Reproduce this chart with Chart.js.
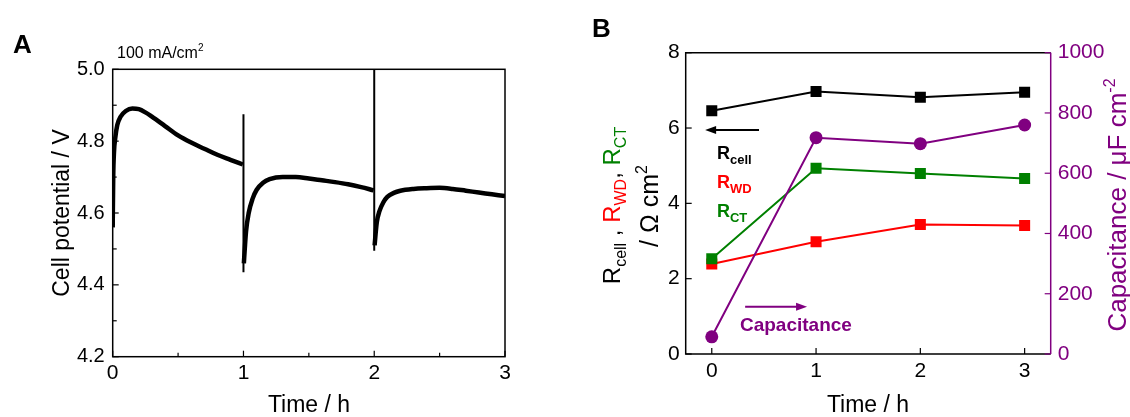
<!DOCTYPE html>
<html>
<head>
<meta charset="utf-8">
<script src="https://cdn.jsdelivr.net/npm/chart.js@4.4.0/dist/chart.umd.min.js"></script>
<style>
    body { margin: 0; background: #fff; }
    #wrap { position: relative; width: 1130px; height: 417px; }
    #panelA { position: absolute; left: 0; top: 0; }
    #panelB { position: absolute; left: 560px; top: 0; }
</style>
</head>
<body>
<div id="wrap">
    <canvas id="panelA" width="560" height="417"></canvas>
    <canvas id="panelB" width="570" height="417"></canvas>
</div>
<script>
// ---- Panel A: cell potential at 100 mA/cm2 (null = break at each interruption)
const timeA = [0, 0.004, 0.01, 0.02, 0.035, 0.06, 0.1, 0.15, 0.2, 0.25, 0.3, 0.4, 0.5, 0.6, 0.7, 0.8, 0.9, 0.995, 1.0,
    1.003, 1.01, 1.02, 1.04, 1.07, 1.1, 1.15, 1.2, 1.3, 1.4, 1.5, 1.6, 1.7, 1.8, 1.9, 1.995, 2.0,
    2.003, 2.01, 2.02, 2.04, 2.07, 2.1, 2.15, 2.2, 2.3, 2.4, 2.5, 2.6, 2.7, 2.8, 2.9, 3.0];
const potentialA = [4.56, 4.70, 4.77, 4.81, 4.845, 4.868, 4.884, 4.891, 4.889, 4.88, 4.868, 4.842, 4.816, 4.796, 4.779, 4.762, 4.748, 4.735, null,
    4.46, 4.50, 4.55, 4.60, 4.64, 4.664, 4.684, 4.694, 4.70, 4.70, 4.696, 4.691, 4.686, 4.68, 4.672, 4.663, null,
    4.51, 4.54, 4.575, 4.605, 4.63, 4.645, 4.656, 4.662, 4.667, 4.669, 4.67, 4.667, 4.662, 4.657, 4.652, 4.647];
// thin vertical spikes at the interruptions
const spikeTime = [1, 1, 1.5, 2, 2];
const spikePotential = [4.875, 4.435, null, 5.0, 4.495];
const xTicksA = [0, 1, 2, 3];
const xMinorA = [0.5, 1.5, 2.5];
const yTicksA = [4.2, 4.4, 4.6, 4.8, 5.0];
const yMinorA = [4.3, 4.5, 4.7, 4.9];

// ---- Panel B: resistances and capacitance vs time
const timeB = [0, 1, 2, 3];
const rCell = [6.46, 6.97, 6.82, 6.95];
const rWD = [2.39, 2.98, 3.44, 3.41];
const rCT = [2.53, 4.93, 4.79, 4.66];
const capacitance = [57, 718, 698, 760];
const yTicksB = [0, 2, 4, 6, 8];
const y2TicksB = [0, 200, 400, 600, 800, 1000];

const FONT = '"Liberation Sans", Arial, Helvetica, sans-serif';
const PURPLE = '#800080';
const GREEN = '#008000';
const RED = '#ff0000';

function xy(xs, ys) {
    return xs.map((x, i) => ({ x: x, y: ys[i] }));
}

function line(ctx, x1, y1, x2, y2) {
    ctx.beginPath();
    ctx.moveTo(x1, y1);
    ctx.lineTo(x2, y2);
    ctx.stroke();
}

// text made of pieces with own size/colour/shift (subscripts etc.)
function richText(ctx, parts, x, y, align) {
    let total = 0;
    parts.forEach(p => {
        ctx.font = `${p.bold ? 'bold ' : ''}${p.size}px ${FONT}`;
        p.w = ctx.measureText(p.t).width;
        total += p.w;
    });
    let cx = align === 'center' ? x - total / 2 : x;
    ctx.textAlign = 'left';
    ctx.textBaseline = 'alphabetic';
    parts.forEach(p => {
        ctx.font = `${p.bold ? 'bold ' : ''}${p.size}px ${FONT}`;
        ctx.fillStyle = p.c || '#000';
        ctx.fillText(p.t, cx, y + (p.dy || 0));
        cx += p.w;
    });
}

function arrow(ctx, x1, y, x2, color) {
    const dir = Math.sign(x2 - x1);
    ctx.strokeStyle = color;
    ctx.fillStyle = color;
    ctx.lineWidth = 2;
    line(ctx, x1, y, x2 - dir * 6, y);
    ctx.beginPath();
    ctx.moveTo(x2, y);
    ctx.lineTo(x2 - dir * 11, y - 4);
    ctx.lineTo(x2 - dir * 11, y + 4);
    ctx.closePath();
    ctx.fill();
}

const panelAOverlay = {
    id: 'panelAOverlay',
    afterDraw(chart) {
        const { ctx, chartArea: a, scales: { x, y } } = chart;
        ctx.save();
        ctx.strokeStyle = '#000';
        ctx.lineWidth = 1.5;
        ctx.strokeRect(a.left, a.top, a.right - a.left, a.bottom - a.top);
        ctx.lineWidth = 1.2;
        xTicksA.forEach(v => { const px = x.getPixelForValue(v); line(ctx, px, a.bottom, px, a.bottom - 6); });
        xMinorA.forEach(v => { const px = x.getPixelForValue(v); line(ctx, px, a.bottom, px, a.bottom - 4); });
        yTicksA.forEach(v => { const py = y.getPixelForValue(v); line(ctx, a.left, py, a.left + 6, py); });
        yMinorA.forEach(v => { const py = y.getPixelForValue(v); line(ctx, a.left, py, a.left + 4, py); });

        ctx.fillStyle = '#000';
        ctx.font = `bold 26px ${FONT}`;
        ctx.textAlign = 'left';
        ctx.fillText('A', 13, 53);
        richText(ctx, [{ t: '100 mA/cm', size: 16 }, { t: '2', size: 10, dy: -7 }], 117, 58, 'left');

        ctx.fillStyle = '#000';
        ctx.font = `23px ${FONT}`;
        ctx.textAlign = 'center';
        ctx.textBaseline = 'middle';
        ctx.fillText('Time / h', 309, 406);
        ctx.save();
        ctx.translate(62.5, 213);
        ctx.rotate(-Math.PI / 2);
        ctx.fillText('Cell potential / V', 0, 0);
        ctx.restore();
        ctx.restore();
    }
};

const panelBOverlay = {
    id: 'panelBOverlay',
    afterDraw(chart) {
        const { ctx, chartArea: a, scales: { x, y, y2 } } = chart;
        ctx.save();
        ctx.lineWidth = 1.5;
        ctx.strokeStyle = '#000';
        ctx.beginPath();
        ctx.moveTo(a.right, a.top);
        ctx.lineTo(a.left, a.top);
        ctx.lineTo(a.left, a.bottom);
        ctx.lineTo(a.right, a.bottom);
        ctx.stroke();
        ctx.strokeStyle = PURPLE;
        line(ctx, a.right, a.top, a.right, a.bottom);

        ctx.lineWidth = 1.2;
        ctx.strokeStyle = '#000';
        timeB.forEach(v => { const px = x.getPixelForValue(v); line(ctx, px, a.bottom, px, a.bottom - 6); });
        yTicksB.forEach(v => { const py = y.getPixelForValue(v); line(ctx, a.left, py, a.left + 6, py); });
        ctx.strokeStyle = PURPLE;
        y2TicksB.forEach(v => { const py = y2.getPixelForValue(v); line(ctx, a.right, py, a.right - 6, py); });

        // annotations inside the plot
        arrow(ctx, x.getPixelForValue(0.453), y.getPixelForValue(5.95), x.getPixelForValue(-0.064), '#000');
        arrow(ctx, x.getPixelForValue(0.32), y.getPixelForValue(1.256), x.getPixelForValue(0.914), PURPLE);
        const lx = x.getPixelForValue(0.05);
        richText(ctx, [{ t: 'R', size: 18, bold: true }, { t: 'cell', size: 13, bold: true, dy: 5 }], lx, y.getPixelForValue(5.17), 'left');
        richText(ctx, [{ t: 'R', size: 18, bold: true, c: RED }, { t: 'WD', size: 13, bold: true, dy: 5, c: RED }], lx, y.getPixelForValue(4.40), 'left');
        richText(ctx, [{ t: 'R', size: 18, bold: true, c: GREEN }, { t: 'CT', size: 13, bold: true, dy: 5, c: GREEN }], lx, y.getPixelForValue(3.65), 'left');
        richText(ctx, [{ t: 'Capacitance', size: 19, bold: true, c: PURPLE }], x.getPixelForValue(0.27), y.getPixelForValue(0.62), 'left');

        ctx.fillStyle = '#000';
        ctx.font = `bold 26px ${FONT}`;
        ctx.textAlign = 'left';
        ctx.textBaseline = 'alphabetic';
        ctx.fillText('B', 32, 37);

        ctx.font = `23px ${FONT}`;
        ctx.textAlign = 'center';
        ctx.textBaseline = 'middle';
        ctx.fillText('Time / h', 308, 406);

        // left title, two lines, rotated
        ctx.save();
        ctx.translate(51, 205.5);
        ctx.rotate(-Math.PI / 2);
        richText(ctx, [
            { t: 'R', size: 24 }, { t: 'cell', size: 16, dy: 6 }, { t: ' , ', size: 24 },
            { t: 'R', size: 24, c: RED }, { t: 'WD', size: 16, dy: 6, c: RED }, { t: ', ', size: 24 },
            { t: 'R', size: 24, c: GREEN }, { t: 'CT', size: 16, dy: 6, c: GREEN }
        ], 0, 8.6, 'center');
        ctx.restore();
        ctx.save();
        ctx.translate(89, 206);
        ctx.rotate(-Math.PI / 2);
        richText(ctx, [{ t: '/ Ω cm', size: 25 }, { t: '2', size: 16, dy: -11 }], 0, 9, 'center');
        ctx.restore();

        // right title
        ctx.save();
        ctx.translate(556.5, 205);
        ctx.rotate(-Math.PI / 2);
        richText(ctx, [{ t: 'Capacitance / μF cm', size: 26, c: PURPLE }, { t: '-2', size: 16, dy: -11, c: PURPLE }], 0, 9.3, 'center');
        ctx.restore();
        ctx.restore();
    }
};

const tickFont = (size) => ({ size: size, family: FONT });
const noGrid = { display: false, drawTicks: false };

new Chart(document.getElementById('panelA'), {
    type: 'line',
    data: {
        datasets: [
            {
                data: xy(spikeTime, spikePotential),
                borderColor: '#000',
                borderWidth: 2,
                pointRadius: 0,
                tension: 0
            },
            {
                data: xy(timeA, potentialA),
                borderColor: '#000',
                borderWidth: 4.5,
                pointRadius: 0,
                cubicInterpolationMode: 'monotone'
            }
        ]
    },
    options: {
        responsive: false,
        animation: false,
        devicePixelRatio: 1,
        layout: { padding: { top: 69.3, right: 55, left: 0, bottom: 0 } },
        plugins: { legend: { display: false }, tooltip: { enabled: false } },
        scales: {
            x: {
                type: 'linear',
                min: 0,
                max: 3,
                afterBuildTicks: s => { s.ticks = xTicksA.map(v => ({ value: v })); },
                afterFit: s => { s.height = 60.3; },
                grid: noGrid,
                border: { display: false },
                ticks: { font: tickFont(21), color: '#000', padding: 4, maxRotation: 0, callback: v => String(v) }
            },
            y: {
                min: 4.2,
                max: 5.0,
                afterBuildTicks: s => { s.ticks = yTicksA.map(v => ({ value: v })); },
                afterFit: s => { s.width = 112.7; },
                grid: noGrid,
                border: { display: false },
                ticks: { font: tickFont(20), color: '#000', padding: 8, callback: v => v.toFixed(1) }
            }
        }
    },
    plugins: [panelAOverlay]
});

new Chart(document.getElementById('panelB'), {
    type: 'line',
    data: {
        datasets: [
            {
                label: 'Capacitance',
                data: xy(timeB, capacitance),
                yAxisID: 'y2',
                borderColor: PURPLE,
                backgroundColor: PURPLE,
                borderWidth: 2,
                pointStyle: 'circle',
                pointRadius: 6.5,
                pointBorderWidth: 0
            },
            {
                label: 'RCT',
                data: xy(timeB, rCT),
                yAxisID: 'y',
                borderColor: GREEN,
                backgroundColor: GREEN,
                borderWidth: 2,
                pointStyle: 'rect',
                pointRadius: 7.8,
                pointBorderWidth: 0
            },
            {
                label: 'RWD',
                data: xy(timeB, rWD),
                yAxisID: 'y',
                borderColor: RED,
                backgroundColor: RED,
                borderWidth: 2,
                pointStyle: 'rect',
                pointRadius: 7.8,
                pointBorderWidth: 0
            },
            {
                label: 'Rcell',
                data: xy(timeB, rCell),
                yAxisID: 'y',
                borderColor: '#000',
                backgroundColor: '#000',
                borderWidth: 2,
                pointStyle: 'rect',
                pointRadius: 7.8,
                pointBorderWidth: 0
            }
        ]
    },
    options: {
        responsive: false,
        animation: false,
        devicePixelRatio: 1,
        layout: { padding: { top: 52.7, right: 0, left: 0, bottom: 0 } },
        plugins: { legend: { display: false }, tooltip: { enabled: false } },
        scales: {
            x: {
                type: 'linear',
                min: -0.25,
                max: 3.25,
                afterBuildTicks: s => { s.ticks = timeB.map(v => ({ value: v })); },
                afterFit: s => { s.height = 63; },
                grid: noGrid,
                border: { display: false },
                ticks: { font: tickFont(21), color: '#000', padding: 5, maxRotation: 0, callback: v => String(v) }
            },
            y: {
                position: 'left',
                min: 0,
                max: 8,
                afterBuildTicks: s => { s.ticks = yTicksB.map(v => ({ value: v })); },
                afterFit: s => { s.width = 125.7; },
                grid: noGrid,
                border: { display: false },
                ticks: { font: tickFont(21), color: '#000', padding: 6, callback: v => String(v) }
            },
            y2: {
                position: 'right',
                min: 0,
                max: 1000,
                afterBuildTicks: s => { s.ticks = y2TicksB.map(v => ({ value: v })); },
                afterFit: s => { s.width = 79.3; },
                grid: noGrid,
                border: { display: false },
                ticks: { font: tickFont(21), color: PURPLE, padding: 7, callback: v => String(v) }
            }
        }
    },
    plugins: [panelBOverlay]
});
</script>
</body>
</html>
